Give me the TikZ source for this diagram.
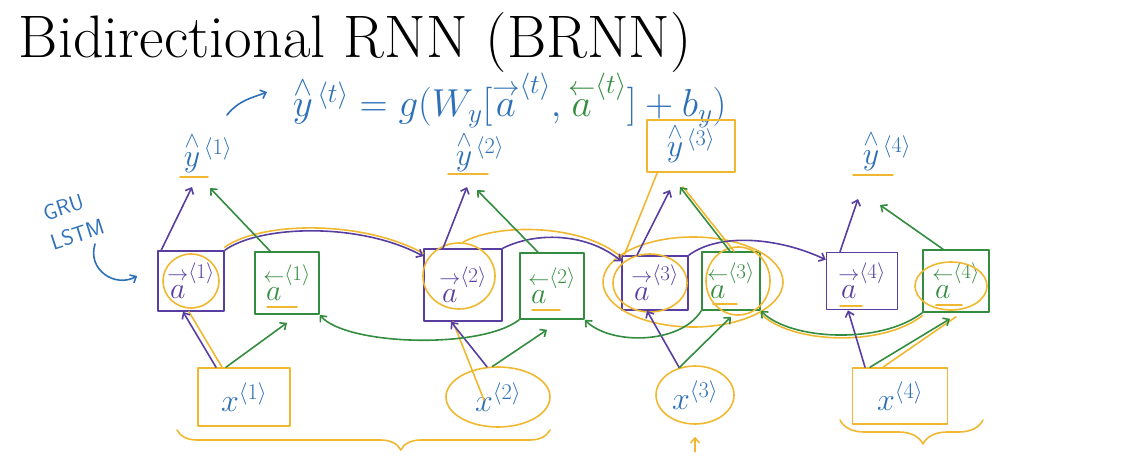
\RequirePackage{fix-cm}
\documentclass[tikz,border=0pt]{standalone}
\usepackage{amsmath}
\usetikzlibrary{arrows.meta,calc,decorations.pathreplacing,shapes.geometric}
\definecolor{penblue}{RGB}{46,112,184}
\definecolor{fwdpurple}{RGB}{88,62,160}
\definecolor{bwdgreen}{RGB}{52,140,64}
\definecolor{hlorange}{RGB}{240,184,48}
\newcommand{\fwa}{\overset{\rightarrow}{a}}
\newcommand{\bwa}{\overset{\leftarrow}{a}}
\newcommand{\yhat}{\smash[t]{\overset{\wedge}{y}}}
\begin{document}
\begin{tikzpicture}[x=1pt,y=-1pt,line width=1.6pt,line cap=round,line join=round,>={Straight Barb[length=5pt,width=9pt]},
	hand/.style={text=penblue,inner sep=3pt,font=\fontsize{32}{34}\selectfont},
	fcell/.style={draw=fwdpurple,text=fwdpurple,minimum width=66pt,minimum height=60pt,inner sep=2pt,font=\fontsize{30}{32}\selectfont},
	bcell/.style={draw=bwdgreen,text=bwdgreen,minimum width=64pt,minimum height=62pt,inner sep=2pt,font=\fontsize{30}{32}\selectfont},
	fw/.style={draw=fwdpurple,->},bw/.style={draw=bwdgreen,->},hlt/.style={draw=hlorange}]
	\useasboundingbox (0,0) rectangle (1123,468);
	\node[anchor=base west,inner sep=0pt,font=\fontsize{60}{64}\selectfont] (title) at (18,58) {Bidirectional RNN (BRNN)};
	\node[hand,anchor=base west,inner sep=0pt,font=\fontsize{39}{41}\selectfont] (eq) at (292,117) {$\yhat^{\,\langle t\rangle}=g(W_y[\fwa^{\langle t\rangle},\textcolor{bwdgreen}{\bwa^{\langle t\rangle}}]+b_y)$};
	\draw[penblue,->] ([shift={(-65,-2)}]eq.base west) .. controls +(12,-15) and +(-15,6) .. ([shift={(-25,-25)}]eq.base west);
	\node[hand,font=\sffamily\fontsize{22}{24}\selectfont,rotate=18,align=center] (gru) at (68,222) {GRU\\[6pt]\hspace*{10pt}LSTM};
	% cells
	\node[fcell] (fa1) at (191,281) {$\fwa^{\langle1\rangle}$};
	\node[bcell] (ba1) at (287,283) {$\bwa^{\langle1\rangle}$};
	\node[fcell,minimum width=78pt,minimum height=72pt] (fa2) at (463,285) {$\fwa^{\langle2\rangle}$};
	\node[bcell,minimum height=66pt] (ba2) at (552,286) {$\bwa^{\langle2\rangle}$};
	\node[fcell,minimum height=54pt] (fa3) at (655,283) {$\fwa^{\langle3\rangle}$};
	\node[bcell,minimum width=58pt,minimum height=58pt] (ba3) at (731,281) {$\bwa^{\langle3\rangle}$};
	\node[fcell,minimum width=71pt,minimum height=57pt] (fa4) at (862,281) {$\fwa^{\langle4\rangle}$};
	\node[bcell,minimum width=66pt] (ba4) at (956,281) {$\bwa^{\langle4\rangle}$};
	% outputs and inputs
	\node[hand] (y1) at (208,155) {$\yhat^{\,\langle1\rangle}$};
	\node[hand] (y2) at (480,154) {$\yhat^{\,\langle2\rangle}$};
	\node[hand,draw=hlorange,minimum width=88pt,minimum height=52pt,text height=28pt] (y3) at (691,146) {$\yhat^{\,\langle3\rangle}$};
	\node[hand] (y4) at (887,153) {$\yhat^{\,\langle4\rangle}$};
	\node[hand,draw=hlorange,minimum width=92pt,minimum height=58pt] (x1) at (244,397) {$x^{\langle1\rangle}$};
	\node[hand,draw=hlorange,ellipse,minimum width=104pt,minimum height=60pt,inner sep=0pt] (x2) at (498,397) {$x^{\langle2\rangle}$};
	\node[hand,draw=hlorange,ellipse,minimum width=78pt,minimum height=58pt,inner sep=0pt] (x3) at (695,395) {$x^{\langle3\rangle}$};
	\node[hand,draw=hlorange,minimum width=95pt,minimum height=56pt] (x4) at (900,396) {$x^{\langle4\rangle}$};
	\draw[penblue,->] ([shift={(27,22)}]gru.center) .. controls +(-8,26) and +(-22,12) .. ([xshift=-20pt,yshift=5pt]fa1.west);
	% orange highlights
	\draw[hlt] (fa1) ellipse [x radius=28,y radius=27] ([shift={(-4,-9)}]fa2.center) ellipse [x radius=36,y radius=33];
	\draw[hlt] ([xshift=-5pt]fa3.center) ellipse [x radius=37,y radius=29] ([xshift=7pt]ba3.center) ellipse [x radius=32,y radius=34] ($(fa3)!0.5!(ba3)$) ellipse [x radius=90,y radius=45] ([shift={(-5,5)}]ba4.center) ellipse [x radius=36,y radius=24];
	\draw[hlt] ([shift={(-28,22)}]y1.center) -- ++(28,0) ([shift={(-32,20)}]y2.center) -- ++(40,0) ([shift={(-34,22)}]y4.center) -- ++(40,0);
	\draw[hlt] ([shift={(-20,24)}]ba1.center) -- ++(30,0) ([shift={(-20,24)}]ba2.center) -- ++(28,0) ([shift={(-18,23)}]ba3.center) -- ++(24,0) ([shift={(-20,24)}]ba4.center) -- ++(26,0) ([shift={(-22,25)}]fa4.center) -- ++(22,0);
	\draw[hlt,transform canvas={yshift=3pt}] (fa1.north east) .. controls (260,225) and (360,222) .. ([yshift=-8pt]fa2.north west);
	\draw[hlt] ([yshift=6pt]fa2.north) .. controls (500,222) and (585,225) .. ([yshift=-2pt]fa3.north west);
	\draw[hlt] ([xshift=-22pt]x1.north) -- ([xshift=-2pt]fa1.south) ([shift={(-14,3)}]x2.center) -- ([xshift=-10pt]fa2.south);
	\draw[hlt] ([xshift=3pt]fa3.north west) -- ([xshift=11pt]y3.south west) ([xshift=3pt]ba3.north) -- ([shift={(-8,41)}]y3.center);
	\draw[hlt,transform canvas={yshift=-3pt}] (ba4.south west) .. controls (880,345) and (790,340) .. (ba3.south east);
	\draw[hlt] ([xshift=-17pt]x4.north) -- ([yshift=-4pt]ba4.south);
	% forward chain
	\draw[fw] (fa1.north east) .. controls (260,225) and (360,222) .. ([yshift=-8pt]fa2.north west);
	\draw[fw] (fa2.north east) .. controls (540,230) and (590,235) .. ([yshift=-6pt]fa3.north west);
	\draw[fw] (fa3.north east) .. controls (720,232) and (780,238) .. ([yshift=-8pt]fa4.north west);
	\draw[fw] ([xshift=-28pt]x1.north) -- ([xshift=-8pt]fa1.south);
	\draw[fw] (x2.110) -- ([xshift=-12pt]fa2.south);
	\draw[fw] (x3.120) -- ([xshift=-8pt]fa3.south);
	\draw[fw] ([xshift=-35pt]x4.north) -- ([xshift=-14pt]fa4.south);
	\draw[fw] ([xshift=4pt]fa1.north west) -- ([shift={(-16,32)}]y1.center);
	\draw[fw] ([xshift=-20pt]fa2.north) -- ([shift={(-13,33)}]y2.center);
	\draw[fw] ([xshift=-18pt]fa3.north) -- ([shift={(-21,44)}]y3.center);
	\draw[fw] ([xshift=-22pt]fa4.north) -- ([shift={(-29,46)}]y4.center);
	% backward chain
	\draw[bw] (ba2.south west) .. controls (480,350) and (345,345) .. (ba1.south east);
	\draw[bw] (ba3.south west) .. controls (680,345) and (610,345) .. (ba2.south east);
	\draw[bw] (ba4.south west) .. controls (880,345) and (790,340) .. (ba3.south east);
	\draw[bw] ([xshift=-18pt]x1.north) -- ([yshift=-8pt]ba1.south);
	\draw[bw] (x2.100) -- ([xshift=-5pt,yshift=-10pt]ba2.south);
	\draw[bw] (x3.120) -- ([yshift=-6pt]ba3.south);
	\draw[bw] ([xshift=-30pt]x4.north) -- ([xshift=-6pt,yshift=-6pt]ba4.south);
	\draw[bw] ([xshift=16pt]ba1.north west) -- ([shift={(2,33)}]y1.center);
	\draw[bw] ([xshift=-14pt]ba2.north) -- ([shift={(-3,36)}]y2.center);
	\draw[bw] ([xshift=-1pt]ba3.north) -- ([shift={(-11,41)}]y3.center);
	\draw[bw] ([xshift=-13pt]ba4.north) -- ([shift={(-7,52)}]y4.center);
	% braces
	\draw[hlt,decorate,decoration={brace,mirror,amplitude=20pt,aspect=0.6}] (177,430) -- (550,430);
	\draw[hlt,decorate,decoration={brace,mirror,amplitude=24pt,aspect=0.58}] (840,420) -- (983,420);
	\draw[hlt,->] ([yshift=-27pt]x3.south) -- ([yshift=-12pt]x3.south);
\end{tikzpicture}
\end{document}
